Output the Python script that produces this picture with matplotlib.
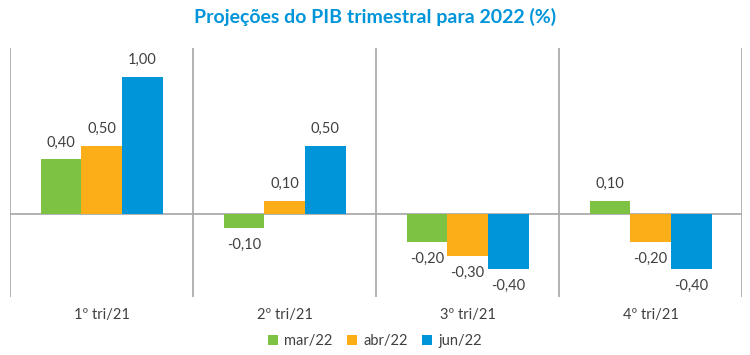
import matplotlib
matplotlib.use('Agg')
import matplotlib.pyplot as plt
import numpy as np

plt.rcParams['font.family'] = ['Lato', 'DejaVu Sans']

# dados
categorias = ['1º tri/21', '2º tri/21', '3º tri/21', '4º tri/21']
series = ['mar/22', 'abr/22', 'jun/22']
mar22 = [0.40, -0.10, -0.20, 0.10]
abr22 = [0.50, 0.10, -0.30, -0.20]
jun22 = [1.00, 0.50, -0.40, -0.40]
cores = ['#7DC242', '#FBAE17', '#0095D9']

fig = plt.figure(figsize=(7.5, 3.55), dpi=100)
ax = fig.add_axes([10/750, 1-297/355, 732/750, 249/355])

x = np.arange(len(categorias))
largura = 2/9
texto_cor = '#404040'

for i, (nome, valores) in enumerate(zip(series, [mar22, abr22, jun22])):
    pos = x + (i - 1) * largura
    ax.bar(pos, valores, width=largura, color=cores[i], label=nome, zorder=2)
    for p, v in zip(pos, valores):
        rotulo = f'{v:.2f}'.replace('.', ',')
        if v >= 0:
            ax.annotate(rotulo, (p, v), xytext=(0, 7), textcoords='offset points',
                        ha='center', va='bottom', fontsize=10.5, color=texto_cor)
        else:
            ax.annotate(rotulo, (p, v), xytext=(0, -7), textcoords='offset points',
                        ha='center', va='top', fontsize=10.5, color=texto_cor)

ax.set_xlim(-0.5, len(categorias) - 0.5)
ax.set_ylim(-0.6, 1.21)

# separadores verticais e linha do zero
for s in np.arange(-0.5, len(categorias), 1):
    ax.axvline(s, color='#A6A6A6', lw=1.2, zorder=1)
ax.axhline(0, color='#A6A6A6', lw=1.2, zorder=1)

for lado in ax.spines.values():
    lado.set_visible(False)
ax.set_yticks([])
ax.set_xticks([])
for xi, c in zip(x, categorias):
    ax.text(xi, -0.6 - 0.13, c, ha='center', va='center', fontsize=10.5, color=texto_cor)

fig.text(0.5, 1 - 17/355, 'Projeções do PIB trimestral para 2022 (%)', ha='center', va='center',
         fontsize=14, fontweight='bold', color='#0095D9')

fig.legend(loc='center', bbox_to_anchor=(0.5, 1 - 341/355), ncol=3, frameon=False,
           fontsize=10.5, handlelength=0.7, handleheight=0.7, handletextpad=0.4,
           columnspacing=1.0, labelcolor=texto_cor)

fig.savefig('out.png', dpi=100)
